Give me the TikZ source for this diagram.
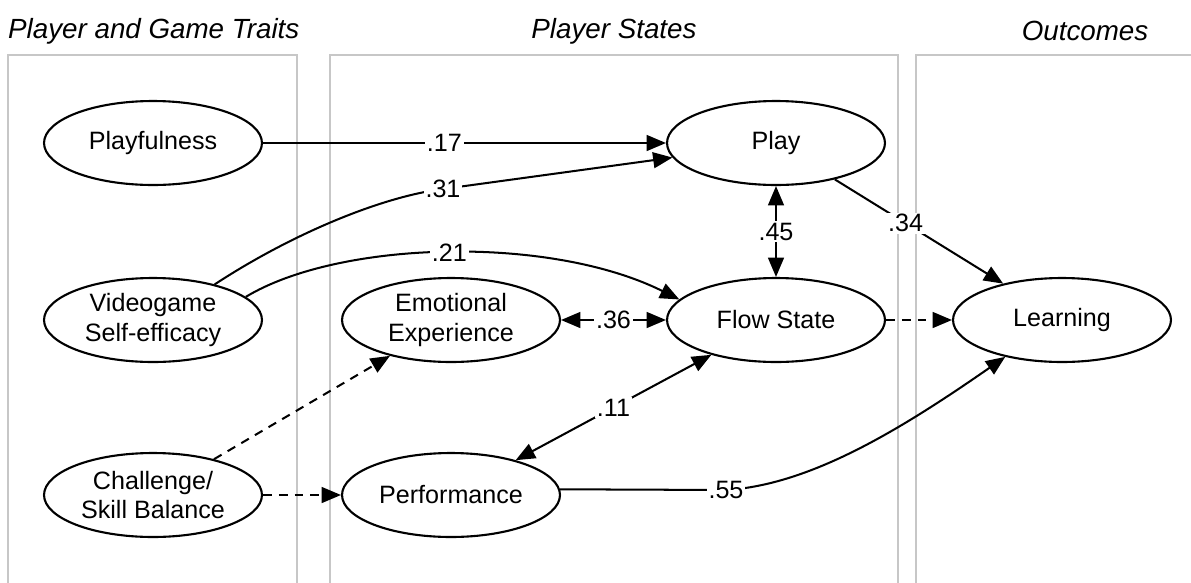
\documentclass[tikz,border=0pt]{standalone}
\usepackage{fontspec}
\setmainfont{Liberation Sans}
\usetikzlibrary{shapes.geometric}
\usetikzlibrary{arrows.meta}
\tikzset{panel/.style={draw=#1,line width=1.1pt},panel/.default=black!22}
\tikzset{construct/.style={ellipse,draw=#1,line width=1.2pt,inner sep=0pt,
    minimum width=4.36cm,minimum height=1.68cm,align=center,
    font=\fontsize{14.3}{16.6}\selectfont},construct/.default=black}

\begin{document}
\begin{tikzpicture}[x=0.02cm,y=-0.02cm,
                    link/.style={line width=1.15pt,-{Triangle[length=11pt,width=9pt]}},
                    both/.style={link,{Triangle[length=11pt,width=9pt]}-{Triangle[length=11pt,width=9pt]}},
                    guess/.style={link,dash pattern=on 5pt off 4pt},
                    coef/.style={fill=white,inner sep=1pt,font=\fontsize{14.3}{16.6}\selectfont},
                    title/.style={font=\fontsize{15.8}{18}\selectfont\itshape}]

    \useasboundingbox (0,0) rectangle (1191,582);

    % Os tres paineis (abertos em baixo)
    \draw [panel] (8,600) |- (297,55) -- (297,600);
    \draw [panel] (330,600) |- (898,55) -- (898,600);
    \draw [panel] (916,600) |- (1200,55);

    % Titulos dos paineis
    \node [title, anchor=west] (traits title) at (2,31) {Player and Game Traits};
    \node [title] (states title) at (614,31) {Player States};
    \node [title] (outcomes title) at (1085,31) {Outcomes};

    % Tracos do jogador e do jogo
    \node [construct] (playfulness) at (153,143) {Playfulness};
    \node [construct] (efficacy) at (153,320) {Videogame\\Self-efficacy};
    \node [construct] (balance) at (153,495) {Challenge/\\Skill Balance};

    % Estados do jogador
    \node [construct] (play) at (776,143) {Play};
    \node [construct] (emotion) at (451,320) {Emotional\\Experience};
    \node [construct] (flow) at (776,320) {Flow State};
    \node [construct] (performance) at (451,495) {Performance};

    % Resultado
    \node [construct] (learning) at (1062,320) {Learning};

    % Caminhos para "Play"
    \draw [link] (playfulness) -- node [coef, pos=.45] {.17} (play);
    \draw [link] (efficacy.30) .. controls (290,235) and (380,197) ..
                 (443,189) node [coef] {.31} -- (play.188);

    % Caminho para "Flow State"
    \draw [link] (efficacy.14) .. controls (340,240) and (550,235) ..
                 node [coef] {.21} (flow.168);

    % Correlacoes
    \draw [both] (play) -- node [coef] {.45} (flow);
    \draw [both] (emotion) -- node [coef] {.36} (flow);
    \draw [both] (performance) -- node [coef] {.11} (flow);

    % Caminhos para "Learning"
    \draw [link] (play) -- node [coef, pos=.42] {.34} (learning);
    \draw [guess] (flow) -- (learning);
    \draw [link] (performance.3) -- (726,490) node [coef] {.55}
                 .. controls (810,485) and (900,430) .. (learning.213);

    % Caminhos nao significativos
    \draw [guess] (balance) -- (emotion);
    \draw [guess] (balance) -- (performance);

\end{tikzpicture}
\end{document}
